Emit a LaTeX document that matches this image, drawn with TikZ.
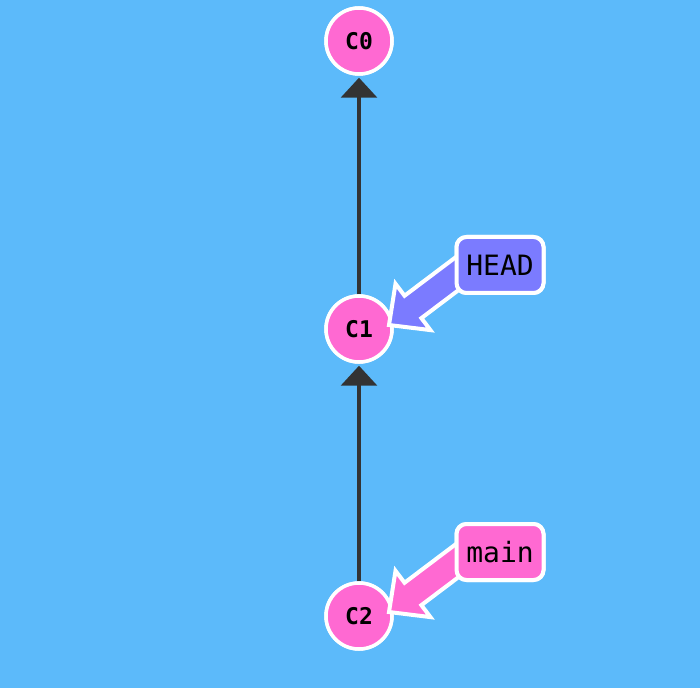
\documentclass[tikz,border=0pt]{standalone}
\usepackage{fontspec}
\newfontfamily\monofont{DejaVu Sans Mono}
\usetikzlibrary{arrows.meta,calc}
\definecolor{bg}{HTML}{5CBAFA}
\definecolor{commitpink}{HTML}{FF69D2}
\definecolor{headblue}{HTML}{7B7BFF}
\definecolor{edgegray}{HTML}{333333}
\tikzset{
  commit/.style={circle, fill=commitpink, draw=white, line width=3.5pt, minimum size=66pt, inner sep=0pt, font=\monofont\bfseries\fontsize{23}{25}\selectfont},
  refbox/.style={rounded corners=10pt, draw=white, line width=4pt, minimum width=87pt, minimum height=56pt, inner sep=0pt, font=\monofont\fontsize{28}{30}\selectfont},
  parent/.style={draw=edgegray, line width=3.5pt, -{Triangle[width=36pt,length=20pt]}, shorten >=2pt},
  refarrow/.style={draw=white, line width=4pt, line join=miter},
}
\begin{document}
\begin{tikzpicture}[x=1pt,y=1pt]
\fill[bg] (0,0) rectangle (700,688);
\useasboundingbox (0,0) rectangle (700,688);
% commits
\node[commit] (C0) at (359,647) {C0};
\node[commit] (C1) at (359,359) {C1};
\node[commit] (C2) at (359,72) {C2};
% parent edges
\draw[parent] (C1.north) -- (C0.south);
\draw[parent] (C2.north) -- (C1.south);
% redraw commits on top of line starts
\node[commit] at (C0) {C0};
\node[commit] at (C1) {C1};
\node[commit] at (C2) {C2};
% ref boxes
\node[refbox, fill=headblue] (HEAD) at (500,423) {HEAD};
\node[refbox, fill=commitpink] (main) at (500,136) {main};
% ref arrows
\coordinate (headtip) at ($(C1.center)+(30,4)$);
\coordinate (maintip) at ($(C2.center)+(30,4)$);
\begin{scope}[shift={(headtip)}, rotate=37]
  \filldraw[refarrow, fill=headblue] (0,0) -- (30,29) -- (30,14) -- (95,14) -- (95,-14) -- (30,-14) -- (30,-29) -- cycle;
\end{scope}
\begin{scope}[shift={(maintip)}, rotate=37]
  \filldraw[refarrow, fill=commitpink] (0,0) -- (30,29) -- (30,14) -- (95,14) -- (95,-14) -- (30,-14) -- (30,-29) -- cycle;
\end{scope}
\node[refbox, fill=headblue] at (HEAD) {HEAD};
\node[refbox, fill=commitpink] at (main) {main};
\end{tikzpicture}
\end{document}
